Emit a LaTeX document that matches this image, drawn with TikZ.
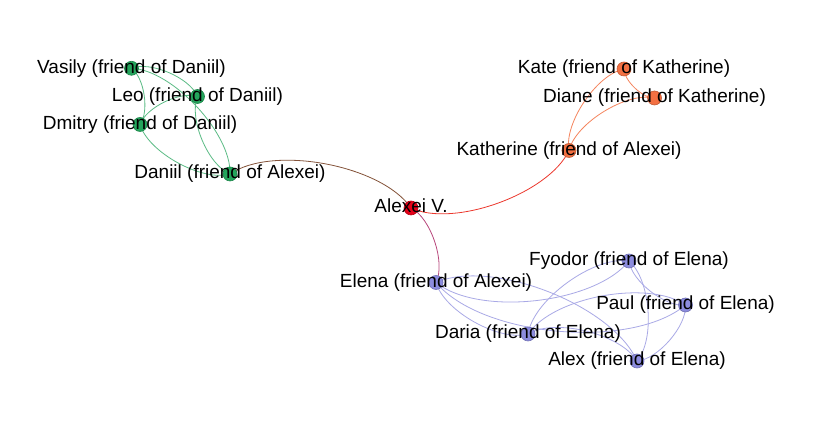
\documentclass[tikz,border=0pt]{standalone}
\usepackage{fontspec}
\setmainfont{Liberation Sans}
\usetikzlibrary{backgrounds}
\definecolor{ngreen}{RGB}{36,165,92}
\definecolor{norange}{RGB}{243,112,66}
\definecolor{nred}{RGB}{228,0,24}
\definecolor{npurple}{RGB}{140,140,222}
\colorlet{eG}{ngreen!75!white}
\colorlet{eO}{norange!85!white}
\colorlet{eP}{npurple!75!white}
\colorlet{eGR}{ngreen!50!nred}
\colorlet{eOR}{norange!50!nred}
\colorlet{ePR}{npurple!50!nred}
\tikzset{
  vert/.style={circle, inner sep=0pt, minimum size=14pt, line width=0.6pt},
  gv/.style={vert, fill=ngreen, draw=ngreen!80!black},
  ov/.style={vert, fill=norange, draw=norange!80!black},
  rv/.style={vert, fill=nred, draw=nred!80!black},
  pv/.style={vert, fill=npurple, draw=npurple!80!black},
  lab/.style={anchor=base, inner sep=0pt, font=\fontsize{19}{21}\selectfont, text=black},
  edge/.style={line width=0.8pt, bend left=45, looseness=0.7225},
}
\begin{document}
\begin{tikzpicture}[x=1pt,y=1pt]
\useasboundingbox (0,0) rectangle (831,428);
% vertices
\node[gv] (vasily) at (131.5,359.7) {};
\node[gv] (leo) at (197.5,331.5) {};
\node[gv] (dmitry) at (140,303.5) {};
\node[gv] (daniil) at (230,254) {};
\node[rv] (alexei) at (411,220) {};
\node[ov] (katherine) at (569,277.5) {};
\node[ov] (kate) at (624,359) {};
\node[ov] (diane) at (654.5,330) {};
\node[pv] (elena) at (436,145.5) {};
\node[pv] (fyodor) at (629,167) {};
\node[pv] (paul) at (685.5,123) {};
\node[pv] (daria) at (528,94) {};
\node[pv] (alex) at (637,67) {};
% edges
\begin{scope}[on background layer]
\fill[white] (0,0) rectangle (831,428);
\draw[edge, eG] (vasily.center) to (leo.center);
\draw[edge, eG] (vasily.center) to (dmitry.center);
\draw[edge, eG] (vasily.center) to (daniil.center);
\draw[edge, eG] (daniil.center) to (leo.center);
\draw[edge, eG] (dmitry.center) to (leo.center);
\draw[edge, eG] (daniil.center) to (dmitry.center);
\draw[edge, eGR] (daniil.center) to (alexei.center);
\draw[edge, eOR] (katherine.center) to (alexei.center);
\draw[edge, ePR] (alexei.center) to (elena.center);
\draw[edge, eO] (katherine.center) to (kate.center);
\draw[edge, eO] (katherine.center) to (diane.center);
\draw[edge, eO] (diane.center) to (kate.center);
\draw[edge, eP] (fyodor.center) to (elena.center);
\draw[edge, eP] (elena.center) to (alex.center);
\draw[edge, eP] (daria.center) to (elena.center);
\draw[edge, eP] (paul.center) to (elena.center);
\draw[edge, eP] (daria.center) to (fyodor.center);
\draw[edge, eP] (daria.center) to (paul.center);
\draw[edge, eP] (daria.center) to (alex.center);
\draw[edge, eP] (fyodor.center) to (alex.center);
\draw[edge, eP] (paul.center) to (fyodor.center);
\draw[edge, eP] (paul.center) to (alex.center);
\end{scope}
% labels
\node[lab] (vasilyL) at ([yshift=-4.8pt]vasily.center) {Vasily (friend of Daniil)};
\node[lab] (leoL) at ([yshift=-4.8pt]leo.center) {Leo (friend of Daniil)};
\node[lab] (dmitryL) at ([yshift=-4.8pt]dmitry.center) {Dmitry (friend of Daniil)};
\node[lab] (daniilL) at ([yshift=-4.8pt]daniil.center) {Daniil (friend of Alexei)};
\node[lab] (alexeiL) at ([yshift=-4.8pt]alexei.center) {Alexei V.};
\node[lab] (katherineL) at ([yshift=-4.8pt]katherine.center) {Katherine (friend of Alexei)};
\node[lab] (kateL) at ([yshift=-4.8pt]kate.center) {Kate (friend of Katherine)};
\node[lab] (dianeL) at ([yshift=-4.8pt]diane.center) {Diane (friend of Katherine)};
\node[lab] (elenaL) at ([yshift=-4.8pt]elena.center) {Elena (friend of Alexei)};
\node[lab] (fyodorL) at ([yshift=-4.8pt]fyodor.center) {Fyodor (friend of Elena)};
\node[lab] (paulL) at ([yshift=-4.8pt]paul.center) {Paul (friend of Elena)};
\node[lab] (dariaL) at ([yshift=-4.8pt]daria.center) {Daria (friend of Elena)};
\node[lab] (alexL) at ([yshift=-4.8pt]alex.center) {Alex (friend of Elena)};
\end{tikzpicture}
\end{document}
